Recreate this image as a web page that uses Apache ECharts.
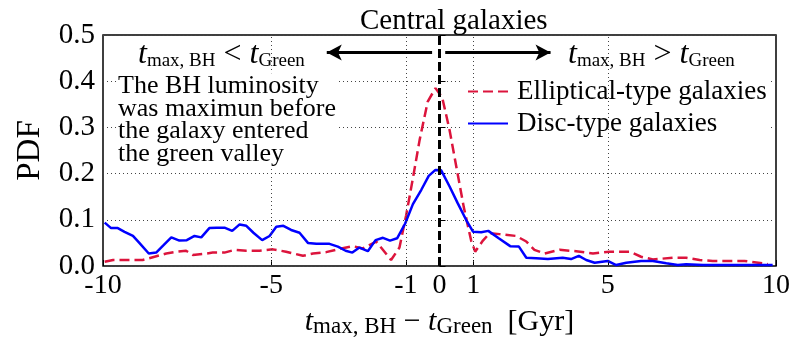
<!DOCTYPE html>
<html>
<head>
<meta charset="utf-8">
<script src="https://cdn.jsdelivr.net/npm/echarts@6/dist/echarts.min.js"></script>
<style>
  html, body { margin: 0; padding: 0; background: #fff; }
  #chart { width: 800px; height: 350px; }
</style>
</head>
<body>
<div id="chart"></div>
<script>
// values: [t_maxBH - t_Green (Gyr), PDF]
const ellipticalPdf = [
  [-9.95, 0.009], [-9.7, 0.013], [-9.41, 0.013], [-9.11, 0.013], [-8.82, 0.013],
  [-8.52, 0.019], [-8.12, 0.027], [-7.78, 0.031], [-7.53, 0.033], [-7.33, 0.024],
  [-7.03, 0.026], [-6.74, 0.029], [-6.39, 0.029], [-6.09, 0.035], [-5.74, 0.033],
  [-5.35, 0.033], [-4.95, 0.036], [-4.56, 0.031], [-4.06, 0.022], [-3.76, 0.027],
  [-3.37, 0.030], [-2.97, 0.037], [-2.58, 0.043], [-2.28, 0.038], [-1.88, 0.053],
  [-1.44, 0.013], [-1.19, 0.040], [-0.99, 0.110], [-0.79, 0.190], [-0.59, 0.273],
  [-0.35, 0.356], [-0.12, 0.385], [0.08, 0.365], [0.30, 0.294], [0.50, 0.215],
  [0.72, 0.128], [0.94, 0.055], [1.06, 0.031], [1.29, 0.055], [1.49, 0.071],
  [1.78, 0.069], [2.28, 0.065], [2.58, 0.053], [2.82, 0.035], [3.12, 0.027],
  [3.57, 0.035], [4.06, 0.032], [4.56, 0.027], [5.05, 0.031], [5.65, 0.031],
  [5.99, 0.020], [6.34, 0.014], [6.93, 0.018], [7.33, 0.018], [7.73, 0.013],
  [8.12, 0.011], [8.72, 0.011], [9.06, 0.011], [9.76, 0.004]
]
const discPdf = [
  [-9.95, 0.094], [-9.76, 0.082], [-9.56, 0.082], [-9.36, 0.074], [-9.11, 0.065],
  [-8.92, 0.050], [-8.64, 0.027], [-8.42, 0.029], [-8.2, 0.045], [-7.97, 0.062],
  [-7.73, 0.055], [-7.51, 0.056], [-7.28, 0.065], [-7.08, 0.062], [-6.84, 0.082],
  [-6.62, 0.083], [-6.39, 0.083], [-6.16, 0.076], [-5.94, 0.090], [-5.74, 0.087],
  [-5.53, 0.072], [-5.27, 0.056], [-5.05, 0.065], [-4.85, 0.085], [-4.64, 0.087],
  [-4.41, 0.078], [-4.16, 0.072], [-3.91, 0.050], [-3.66, 0.048], [-3.27, 0.048],
  [-3.02, 0.042], [-2.79, 0.033], [-2.59, 0.029], [-2.38, 0.040], [-2.13, 0.032],
  [-1.9, 0.056], [-1.68, 0.061], [-1.47, 0.055], [-1.26, 0.060], [-1.02, 0.092],
  [-0.79, 0.134], [-0.54, 0.165], [-0.32, 0.195], [-0.12, 0.208], [0.05, 0.207],
  [0.30, 0.172], [0.54, 0.136], [0.79, 0.100], [1.0, 0.074], [1.24, 0.073],
  [1.45, 0.076], [1.76, 0.060], [2.1, 0.043], [2.36, 0.042], [2.58, 0.018],
  [2.87, 0.017], [3.22, 0.015], [3.66, 0.018], [3.91, 0.015], [4.14, 0.022],
  [4.36, 0.013], [4.61, 0.007], [5.0, 0.011], [5.25, 0.002], [5.55, 0.007],
  [5.99, 0.011], [6.34, 0.011], [6.74, 0.006], [7.08, 0.002], [7.33, 0.004],
  [7.83, 0.002], [8.5, 0.002], [9.2, 0.002], [9.9, 0.002]
]
const xTicks = [-10, -5, -1, 0, 1, 5, 10]
const xGridLines = [-5, -1, 1, 5]
const seriesNames = ['Elliptical-type galaxies', 'Disc-type galaxies']
const noteLines = ['The BH luminosity', 'was maximun before', 'the galaxy entered', 'the green valley']

const serif = "'Liberation Serif', 'Times New Roman', serif"

// rich styles for t_{max, BH} style math
function mathRich(big, small, subLine, pad) {
  const base = { fontFamily: serif, fontWeight: 'normal', color: '#000' }
  return {
    i: { ...base, fontStyle: 'italic', fontSize: big, lineHeight: big + 2 },
    o: { ...base, fontSize: big, lineHeight: big + 2 },
    s: { ...base, fontSize: small, lineHeight: subLine, padding: [pad, 0, 0, 0] },
  }
}

const myChart = echarts.init(document.getElementById('chart'))
myChart.setOption({
  animation: false,
  backgroundColor: '#fff',
  title: [
    {
      text: 'Central galaxies',
      left: 355,
      top: 2,
      textStyle: { fontFamily: serif, fontSize: 29, fontWeight: 'normal', color: '#000' },
    },
    {
      text: '{i|t}{s|max, BH}{o| < }{i|t}{s|Green}',
      left: 138,
      top: 38,
      padding: 0,
      textStyle: { fontWeight: 'normal', rich: mathRich(32, 19, 20, 13) },
    },
    {
      text: '{i|t}{s|max, BH}{o| > }{i|t}{s|Green}',
      left: 568,
      top: 38,
      padding: 0,
      textStyle: { fontWeight: 'normal', rich: mathRich(32, 19, 20, 13) },
    },
    {
      text: noteLines.join('\n'),
      left: 116,
      top: 75,
      padding: [0, 2, 0, 2],
      backgroundColor: '#fff',
      textStyle: { fontFamily: serif, fontSize: 26, lineHeight: 22.5, fontWeight: 'normal', color: '#000' },
    },
  ],
  legend: {
    orient: 'vertical',
    left: 463,
    top: 76,
    padding: [2, 4, 2, 4],
    itemGap: 5,
    itemWidth: 40,
    itemHeight: 14,
    backgroundColor: '#fff',
    data: seriesNames,
    itemStyle: { opacity: 0 },
    textStyle: { fontFamily: serif, fontSize: 27, color: '#000', padding: [0, 0, 0, 4] },
  },
  grid: {
    left: 103,
    right: 24,
    top: 35,
    bottom: 84,
    show: true,
    borderColor: '#000',
    borderWidth: 1.5,
    backgroundColor: 'transparent',
  },
  xAxis: {
    type: 'value',
    min: -10,
    max: 10,
    name: '{i|t}{s|max, BH}{o| − }{i|t}{s|Green}{o|  [Gyr]}',
    nameLocation: 'middle',
    nameGap: 40,
    nameTextStyle: { rich: mathRich(30, 23, 23, 10) },
    axisLine: { show: false },
    axisTick: { show: true, inside: true, length: 6, customValues: xTicks, lineStyle: { color: '#000' } },
    axisLabel: {
      customValues: xTicks,
      margin: 6,
      fontFamily: serif,
      fontSize: 28,
      color: '#000',
    },
    splitLine: { show: false },
  },
  yAxis: {
    type: 'value',
    min: 0,
    max: 0.5,
    interval: 0.1,
    name: 'PDF',
    nameLocation: 'middle',
    nameGap: 56,
    nameTextStyle: { fontFamily: serif, fontSize: 33, color: '#000' },
    axisLine: { show: false },
    axisTick: { show: true, inside: true, length: 6, lineStyle: { color: '#000' } },
    axisLabel: {
      margin: 8,
      fontFamily: serif,
      fontSize: 29,
      color: '#000',
      formatter: (v) => v.toFixed(1),
    },
    splitLine: { show: true, lineStyle: { color: '#444', type: [1, 3], width: 1 } },
  },
  series: [
    {
      name: seriesNames[0],
      type: 'line',
      data: ellipticalPdf,
      symbol: 'none',
      z: 2,
      lineStyle: { color: '#dc143c', width: 2.5, type: [10, 5] },
      itemStyle: { color: '#dc143c' },
      markLine: {
        silent: true,
        symbol: 'none',
        label: { show: false },
        lineStyle: { color: '#444', type: [1, 3], width: 1 },
        data: xGridLines.map((v) => ({ xAxis: v })),
      },
    },
    {
      name: seriesNames[1],
      type: 'line',
      data: discPdf,
      symbol: 'none',
      z: 3,
      lineStyle: { color: '#0000ff', width: 2.5 },
      itemStyle: { color: '#0000ff' },
      markLine: {
        silent: true,
        label: { show: false },
        symbol: ['none', 'arrow'],
        symbolSize: [12, 15],
        lineStyle: { color: '#000', type: 'solid', width: 3 },
        data: [
          [{ coord: [-0.22, 0.462] }, { coord: [-3.35, 0.462] }],
          [{ coord: [0.17, 0.462] }, { coord: [3.3, 0.462] }],
          [
            { coord: [0, 0], symbol: 'none', lineStyle: { type: [9, 4], width: 3 } },
            { coord: [0, 0.5], symbol: 'none' },
          ],
        ],
      },
    },
  ],
})
window.addEventListener('resize', () => {
  myChart.resize()
})
</script>
</body>
</html>
